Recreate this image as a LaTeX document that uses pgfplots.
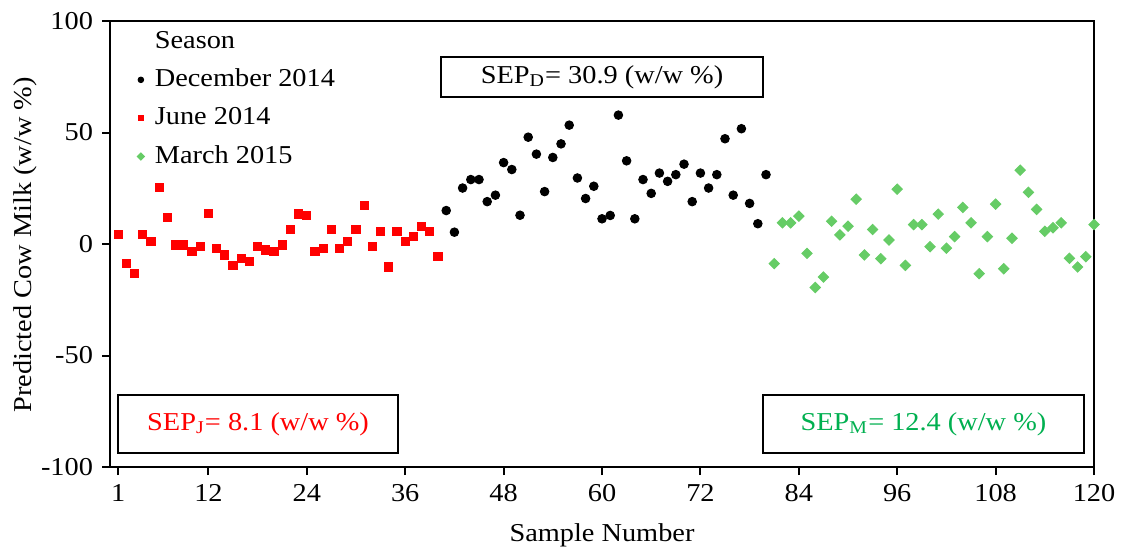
\documentclass[border=0pt]{standalone}
\usepackage{fontspec}
\setmainfont{Liberation Serif}[FakeStretch=1.1]
\usepackage{pgfplots}
\pgfplotsset{compat=1.18}
\usepackage{pgfplotstable}
\definecolor{myred}{HTML}{FF0000}
\definecolor{mygreen}{HTML}{66CC66}
\definecolor{txtgreen}{HTML}{00B050}
\pgfplotstableread{
x y
1 4.2
2 -8.8
3 -13.3
4 4.2
5 1.2
6 25.5
7 11.9
8 -0.4
9 -0.4
10 -3.4
11 -1.2
12 13.6
13 -1.9
14 -4.9
15 -9.6
16 -6.4
17 -7.9
18 -1.2
19 -2.7
20 -3.4
21 -0.4
22 6.5
23 13.4
24 12.7
25 -3.4
26 -1.9
27 6.5
28 -1.9
29 1.1
30 6.5
31 17.2
32 -1.2
33 5.7
34 -10.3
35 5.7
36 1.1
37 3.5
38 8.0
39 5.7
40 -5.7
}\june
\pgfplotstableread{
x y
41 15.0
42 5.3
43 25.1
44 28.9
45 28.9
46 19.0
47 21.9
48 36.5
49 33.4
50 12.9
51 47.9
52 40.3
53 23.5
54 38.8
55 44.9
56 53.3
57 29.6
58 20.4
59 25.9
60 11.3
61 12.8
62 57.8
63 37.3
64 11.3
65 28.9
66 22.7
67 31.8
68 28.1
69 31.1
70 35.8
71 19.0
72 31.8
73 25.1
74 31.1
75 47.2
76 21.9
77 51.7
78 18.2
79 9.1
80 31.1
}\december
\pgfplotstableread{
x y
81 -8.8
82 9.5
83 9.5
84 12.5
85 -4.2
86 -19.5
87 -14.8
88 10.2
89 4.1
90 8.0
91 20.1
92 -4.9
93 6.5
94 -6.6
95 1.8
96 24.6
97 -9.6
98 8.7
99 8.7
100 -1.2
101 13.4
102 -1.9
103 3.3
104 16.4
105 9.5
106 -13.3
107 3.3
108 17.9
109 -11.1
110 2.6
111 33.1
112 23.2
113 15.5
114 5.7
115 7.3
116 9.5
117 -6.4
118 -10.3
119 -5.7
120 8.7
}\march
\begin{document}
\fontsize{10.3}{12.4}\selectfont
\begin{tikzpicture}
\begin{axis}[
  scale only axis,
  width=393.6pt, height=178.4pt,
  xmin=0, xmax=120, ymin=-100, ymax=100,
  xtick={1,12,24,36,48,60,72,84,96,108,120},
  ytick={-100,-50,0,50,100},
  tick align=outside, tick pos=left,
  major tick length=3.2pt,
  axis line style={line width=0.8pt},
  every tick/.style={line width=0.8pt, black},
  /pgf/number format/assume math mode=true,
  tick label style={font=\fontsize{10.3}{12.4}\selectfont},
  label style={font=\fontsize{10.3}{12.4}\selectfont},
  xlabel={Sample Number},
  ylabel={Predicted Cow Milk (w/w \%)},
  every axis x label/.style={at={(rel axis cs:0.5,-0.1525)}, anchor=center},
  every axis y label/.style={at={(rel axis cs:-0.0864,0.498)}, anchor=center, rotate=90},
  clip=false,
  legend cell align=left,
  legend style={draw=none, fill=none, at={(rel axis cs:0.016,1.001)}, anchor=north west,
    font=\fontsize{10.3}{12.4}\selectfont, row sep=2.8pt},
  legend image code/.code={\draw[mark repeat=2,mark phase=2,#1] plot coordinates {(0cm,0cm) (0.1cm,0cm) (0.2cm,0cm)};\path[draw=none,fill=none] (0.1cm,0cm) -- ++(3.6pt,0pt);},
]
\addlegendimage{empty legend}
\addlegendentry{Season}
\addlegendimage{only marks, mark=*, mark size=1.1pt, black}
\addlegendentry{December 2014}
\addlegendimage{only marks, mark=square*, mark size=1.1pt, myred, mark options={draw=myred, fill=myred}}
\addlegendentry{June 2014}
\addlegendimage{only marks, mark=square*, mark size=1.0pt, mygreen, mark options={rotate=45, draw=mygreen, fill=mygreen}}
\addlegendentry{March 2015}
\addplot[forget plot, only marks, mark=*, mark size=1.7pt, black] table {\december};
\addplot[forget plot, only marks, mark=square*, mark size=1.65pt, myred, mark options={draw=myred, fill=myred}] table {\june};
\addplot[forget plot, only marks, mark=square*, mark size=1.45pt, mygreen, mark options={rotate=45, draw=mygreen, fill=mygreen}] table {\march};
\node[draw, line width=0.8pt, minimum width=128.8pt, minimum height=16pt, inner sep=0pt, fill=white] at (axis cs:60,74.9) {SEP\textsubscript{D}= 30.9 (w/w \%)};
\node[draw, line width=0.8pt, minimum width=111.8pt, minimum height=23.2pt, inner sep=0pt, text=myred, fill=white] at (axis cs:18.05,-80.7) {SEP\textsubscript{J}= 8.1 (w/w \%)};
\node[draw, line width=0.8pt, minimum width=128.4pt, minimum height=23.2pt, inner sep=0pt, text=txtgreen, fill=white] at (axis cs:99.2,-80.7) {SEP\textsubscript{M}= 12.4 (w/w \%)};
\path (rel axis cs:-0.1118,-0.1906) rectangle (rel axis cs:1.0315,1.0471);
\end{axis}
\end{tikzpicture}
\end{document}
